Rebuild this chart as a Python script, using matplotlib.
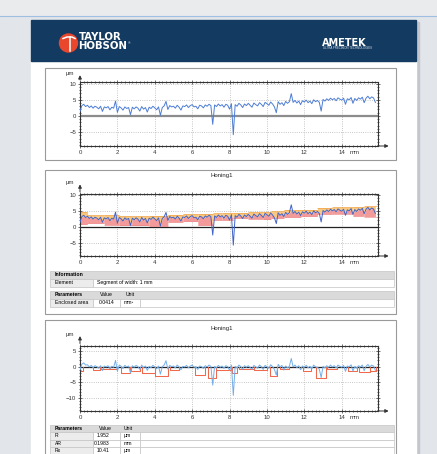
import numpy as np
import matplotlib
matplotlib.use('Agg')
import matplotlib.pyplot as plt
from matplotlib.patches import Rectangle, Circle
from matplotlib.ticker import MultipleLocator

plt.rcParams['font.family'] = ['Liberation Sans', 'DejaVu Sans']

W, H = 437, 454

# Профіль поверхні, крок 0.1 мм (мкм)
step_mm = 0.1
profile = [
    1.4, 3.2, 3.6, 2.9, 3.3, 2.6, 3.1, 2.4, 3.0, 2.7,
    2.2, 3.0, 1.4, 2.8, 2.5, 2.9, 1.9, 2.7, 2.4, 4.6,
    1.1, 2.9, 2.5, 1.8, 2.8, 2.3, 2.6, 0.4, 2.7, 2.2,
    2.8, 2.4, 1.5, 2.9, 2.1, 2.6, 1.2, 2.7, 2.3, 3.0,
    2.5, 1.9, 2.8, 0.2, 2.6, 3.1, 4.5, 2.0, 3.2, 2.8,
    3.0, 2.4, 3.3, 2.7, 1.8, 3.1, 2.9, 3.4, 2.6, 3.2,
    3.5, 2.8, 3.0, 2.2, 3.3, 3.1, 2.5, 3.4, 3.0, 3.6,
    3.2, -2.6, 3.4, 2.9, 3.7, 3.1, 3.5, 2.7, 3.6, 3.3,
    2.1, 3.8, -5.8, 3.5, 3.0, 3.9, 3.4, 2.6, 3.7, 3.2,
    3.9, 3.3, 2.7, 4.0, 3.5, 3.1, 4.1, 3.6, 2.9, 4.2,
    3.8, 3.3, 4.3, 3.7, 2.8, 1.0, 4.4, 3.6, 4.1, 3.2,
    4.5, 3.9, 4.4, 6.9, 4.2, 4.8, 4.0, 4.6, 3.5, 4.7,
    4.3, 4.9, 4.1, 4.6, 3.8, 5.0, 4.4, 4.8, 4.2, 1.5,
    5.1, 4.6, 5.3, 4.8, 5.5, 5.0, 5.4, 4.7, 5.6, 5.2,
    4.9, 5.5, 3.6, 5.3, 5.0, 5.7, 3.9, 5.4, 4.8, 5.6,
    5.2, 5.8, 4.1, 5.5, 6.1, 5.3, 5.9, 5.6, 4.2,
]

# Сегменти шириною ~1 мм (Honing1, enclosed area)
seg_bounds = [0.0, 0.4, 1.3, 2.1, 2.8, 3.7, 4.7, 5.5, 6.3, 7.1, 7.6,
              8.2, 9.0, 9.8, 10.2, 10.9, 11.8, 12.7, 13.5, 14.6, 15.2, 15.9]
seg_upper = [4.7, 3.6, 3.7, 3.4, 3.3, 3.5, 3.8, 4.0, 4.1, 4.2, 4.3,
             4.4, 4.6, 4.7, 4.8, 5.3, 5.4, 6.0, 6.1, 6.2, 6.4]
seg_lower = [0.8, 1.1, 0.6, 0.4, 0.4, 0.2, 1.5, 1.7, 0.5, 2.1, 2.1,
             2.7, 2.5, 2.3, 2.7, 3.0, 3.3, 4.0, 4.1, 3.4, 3.2]
seg_mean = [2.4, 2.7, 2.6, 2.4, 2.4, 2.6, 2.8, 3.0, 3.1, 3.3, 3.3,
            3.4, 3.6, 3.8, 3.7, 4.3, 4.5, 5.0, 5.1, 5.3, 5.4]

# Мотиви шорсткості (R)
r_start = [0.0, 0.7, 1.05, 1.6, 2.2, 2.75, 3.3, 4.0, 4.8, 6.15, 6.85, 7.3,
           8.15, 8.5, 9.3, 10.15, 10.7, 11.95, 12.65, 13.2, 14.35, 14.9, 15.5]
r_end = [0.15, 1.05, 1.6, 2.0, 2.7, 3.2, 4.0, 4.7, 5.3, 6.7, 7.25, 8.1,
         8.4, 9.3, 10.0, 10.55, 11.2, 12.35, 13.15, 13.75, 14.8, 15.5, 15.85]
r_depth = [-1.4, -1.1, -0.9, -0.6, -2.1, -1.4, -2.1, -2.9, -1.1, -2.7, -3.5, -1.1,
           -2.1, -0.75, -1.1, -2.9, -0.9, -1.4, -3.5, -0.75, -1.4, -1.8, -1.3]

x_ticks = [0, 2, 4, 6, 8, 10, 12, 14]

prof = np.array(profile)
x = np.round(np.arange(len(prof)) * step_mm, 2)
seg_idx = np.clip(np.searchsorted(seg_bounds, x + 1e-9, side='right') - 1, 0, len(seg_upper) - 1)
rough = prof - np.array(seg_mean)[seg_idx]

fig = plt.figure(figsize=(W / 100, H / 100), dpi=100)

# Фон сторінки
bg = fig.add_axes([0, 0, 1, 1])
bg.set_xlim(0, W)
bg.set_ylim(H, 0)
bg.axis('off')
bg.add_patch(Rectangle((0, 0), W, H, color='#e2e5e9'))
bg.add_patch(Rectangle((0, 0), W, 15.5, color='#e9ebed'))
bg.plot([0, W], [16, 16], color='#9fbfe2', lw=0.8)
bg.add_patch(Rectangle((416, 22), 3, H, color='#c3c6ca'))
bg.add_patch(Rectangle((31, 20), 385, H, color='white'))
bg.add_patch(Rectangle((31, 20), 385, 41, color='#133a60'))

# Логотипи
bg.add_patch(Circle((68.5, 43), 9, color='#e9472d'))
bg.plot([63, 67, 72, 75], [38.5, 37, 37, 38.5], color='white', lw=1.1)
bg.plot([69.5, 69.5], [37, 51], color='white', lw=1.1)
bg.text(78.5, 36.5, 'TAYLOR', color='white', fontsize=7.3, fontweight='bold', va='center',
        family='DejaVu Sans')
bg.text(78.5, 46, 'HOBSON', color='white', fontsize=7.3, fontweight='bold', va='center',
        family='DejaVu Sans')
bg.text(128, 43, '®', color='white', fontsize=2.5, va='center')
bg.text(322, 42.5, 'AMETEK', color='white', fontsize=7, fontweight='heavy', va='center',
        family='DejaVu Sans')
bg.text(323, 48, 'ULTRA PRECISION TECHNOLOGIES', color='#dfe6ee', fontsize=2.1, va='center')

# Рамки панелей
for top, height in [(68, 92), (170, 144), (320, 150)]:
    bg.add_patch(Rectangle((45, top), 351, height, fill=False, ec='#9a9a9a', lw=0.8))

fs = 4.3
ft = 3.7
bg.text(222, 175.5, 'Honing1', fontsize=fs, ha='center', va='center', color='#222')
bg.text(222, 328.5, 'Honing1', fontsize=fs, ha='center', va='center', color='#222')


def cell(x0, y0, w, h, fc):
    bg.add_patch(Rectangle((x0, y0), w, h, fc=fc, ec='#c4c4c4', lw=0.5))


# Таблиця панелі 2
cell(50, 271, 344, 7.5, '#dadada')
bg.text(55, 274.8, 'Information', fontsize=ft, fontweight='bold', va='center')
cell(50, 278.5, 43.3, 8, '#ececec')
cell(93.3, 278.5, 300.7, 8, 'white')
bg.text(55, 282.5, 'Element', fontsize=ft, va='center')
bg.text(97, 282.5, 'Segment of width: 1 mm', fontsize=ft, va='center')
cell(50, 291, 344, 7.5, '#dadada')
bg.text(55, 294.8, 'Parameters', fontsize=ft, fontweight='bold', va='center')
bg.text(100, 294.8, 'Value', fontsize=ft, va='center')
bg.text(126, 294.8, 'Unit', fontsize=ft, va='center')
cell(50, 298.5, 43.3, 8.5, '#ececec')
cell(93.3, 298.5, 26.7, 8.5, 'white')
cell(120, 298.5, 20, 8.5, 'white')
cell(140, 298.5, 254, 8.5, 'white')
bg.text(55, 302.8, 'Enclosed area', fontsize=ft, va='center')
bg.text(99, 302.8, '0.0414', fontsize=ft, va='center')
bg.text(123.5, 302.8, 'mm²', fontsize=ft, va='center')

# Таблиця панелі 3
cell(50, 424.5, 344, 7.5, '#dadada')
bg.text(55, 428.2, 'Parameters', fontsize=ft, fontweight='bold', va='center')
bg.text(98.5, 428.2, 'Value', fontsize=ft, va='center')
bg.text(123.5, 428.2, 'Unit', fontsize=ft, va='center')
for i, (name, val, unit) in enumerate([('R', '1.952', 'μm'), ('AR', '0.1983', 'mm'), ('Rx', '10.41', 'μm')]):
    y0 = 432 + i * 7.5
    cell(50, y0, 43.3, 7.5, '#ececec')
    cell(93.3, y0, 26.7, 7.5, 'white')
    cell(120, y0, 20, 7.5, 'white')
    cell(140, y0, 254, 7.5, 'white')
    bg.text(55, y0 + 3.8, name, fontsize=ft, va='center')
    bg.text(109.5, y0 + 3.8, val, fontsize=ft, va='center', ha='right')
    bg.text(123.5, y0 + 3.8, unit, fontsize=ft, va='center')


def px_axes(l, t, r, b):
    return fig.add_axes([l / W, 1 - b / H, (r - l) / W, (b - t) / H])


def style(ax, ylim, yticks, arrow_up, zero_color, zero_lw):
    ax.set_xlim(0, 15.94)
    ax.set_ylim(*ylim)
    ax.set_xticks(x_ticks)
    ax.set_yticks(yticks)
    ax.xaxis.set_minor_locator(MultipleLocator(0.2))
    ax.yaxis.set_minor_locator(MultipleLocator(1))
    ax.grid(True, which='major', linestyle=':', color='#b5b5b5', lw=0.6)
    ax.set_axisbelow(True)
    ax.tick_params(which='both', direction='inout', top=True, right=True,
                   labelsize=fs, pad=1.4, colors='#333', width=0.5)
    ax.tick_params(which='major', length=2.5)
    ax.tick_params(which='minor', length=1.5)
    ax.tick_params(labeltop=False, labelright=False)
    for s in ax.spines.values():
        s.set_color('#333')
        s.set_linewidth(0.8)
    ax.axhline(0, color=zero_color, lw=zero_lw, zorder=1)
    ax.annotate('', xy=(1.045, 0), xytext=(0.99, 0), xycoords='axes fraction',
                arrowprops=dict(arrowstyle='-|>', color='#333', lw=0.7, mutation_scale=5),
                annotation_clip=False)
    ax.annotate('', xy=(0, 1 + arrow_up), xytext=(0, 0.99), xycoords='axes fraction',
                arrowprops=dict(arrowstyle='-|>', color='#333', lw=0.7, mutation_scale=5),
                annotation_clip=False)
    ax.annotate('μm', xy=(0, 1 + arrow_up), xycoords='axes fraction', xytext=(-7, -1),
                textcoords='offset points', fontsize=fs, ha='center', va='center', color='#333')
    ax.annotate('mm', xy=(14.4, 0), xycoords=('data', 'axes fraction'), xytext=(0, -2.8),
                textcoords='offset points', fontsize=fs, ha='left', va='top', color='#333')


# Панель 1: вихідний профіль
ax1 = px_axes(80, 82, 378, 146)
ax1.plot(x, prof, color='#4d7dd4', lw=0.7, zorder=3)
style(ax1, (-9.3, 10.5), [-5, 0, 5, 10], 0.15, '#8c8c8c', 1.6)

# Панель 2: сегменти та заповнена площа
ax2 = px_axes(80, 194, 378, 256)
for i in range(len(seg_upper)):
    m = (x >= seg_bounds[i] - 1e-9) & (x <= seg_bounds[i + 1] + 1e-9)
    xs = x[m]
    ps = np.clip(prof[m], seg_lower[i], seg_upper[i])
    ax2.fill_between(xs, seg_lower[i], ps, color='#f39b9b', lw=0, zorder=2)
    ax2.fill_between(xs, ps, seg_upper[i], color='#f8c880', lw=0, zorder=2)
ax2.hlines(seg_upper, seg_bounds[:-1], seg_bounds[1:], color='#f0a040', lw=0.5, zorder=2)
ax2.hlines(seg_lower, seg_bounds[:-1], seg_bounds[1:], color='#ec8080', lw=0.4, zorder=2)
ax2.plot(x, prof, color='#4163c8', lw=0.7, zorder=3)
style(ax2, (-9.2, 10.3), [-5, 0, 5, 10], 0.2, '#222', 0.9)

# Панель 3: шорсткість і мотиви
ax3 = px_axes(80, 345.7, 378, 411)
for s, e, d in zip(r_start, r_end, r_depth):
    ax3.plot([s, s, e, e], [0, d, d, 0], color='#f0694c', lw=0.75, zorder=2)
ax3.plot(x, rough, color='#74aee8', lw=0.7, zorder=3)
style(ax3, (-14.2, 6.7), [-10, -5, 0, 5], 0.19, '#222', 0.9)

fig.savefig('out.png', dpi=100)
